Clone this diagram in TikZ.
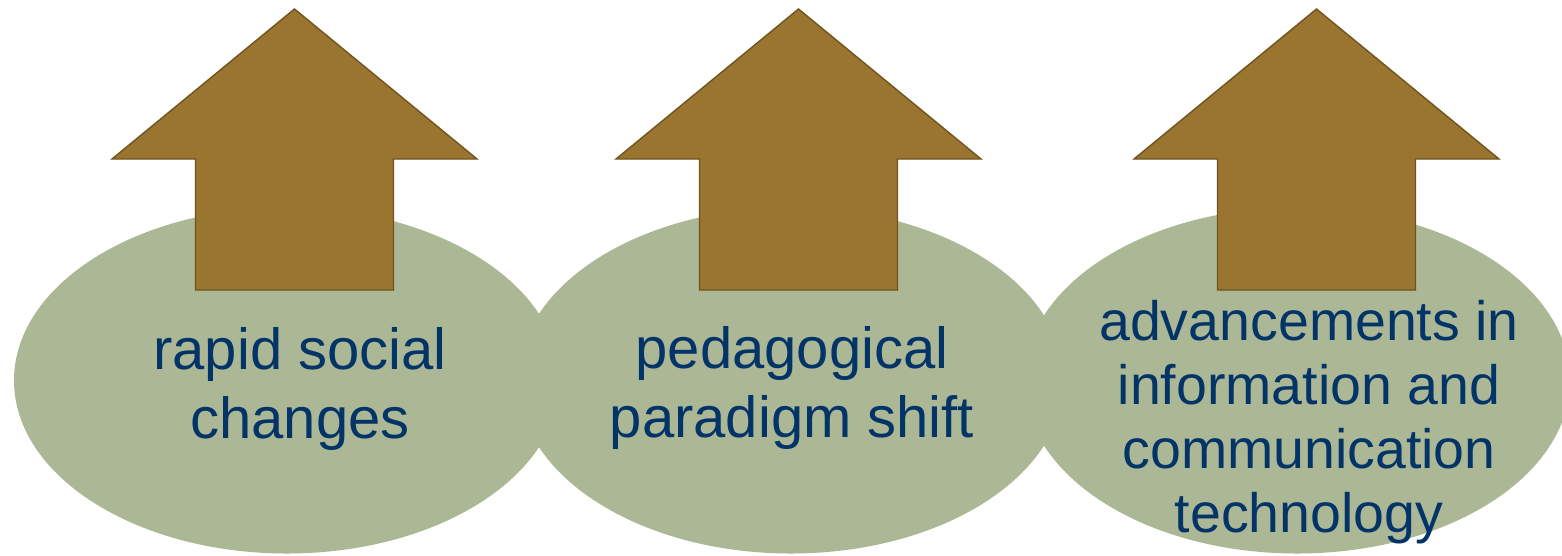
\documentclass[tikz,border=0pt]{standalone}
\usepackage{fontspec}
\setmainfont{Liberation Sans}
\usetikzlibrary{shapes.geometric}
\definecolor{ovalfill}{RGB}{171,183,149}
\definecolor{arrowfill}{RGB}{154,117,48}
\definecolor{arrowline}{RGB}{112,84,30}
\definecolor{txtblue}{RGB}{3,52,103}
\tikzset{
  oval/.style={ellipse, fill=ovalfill, draw=none, inner sep=0pt,
    minimum width=546pt, minimum height=346pt},
  uparrow/.style={fill=arrowfill, draw=arrowline, line width=1.4pt, line join=miter},
  bigtext/.style={text=txtblue, align=center, inner sep=0pt,
    font=\fontsize{58}{68.5}\selectfont},
  smalltext/.style={text=txtblue, align=center, inner sep=0pt,
    font=\fontsize{55.5}{64}\selectfont}
}
\newcommand{\UpArrowShape}[2]{% #1 name, #2 center x
  \coordinate (#1tip) at (#2,9);
  \draw[uparrow] (#1tip) -- ++(182.5,150) -- ++(-83.5,0) -- ++(0,131)
    -- ++(-198,0) -- ++(0,-131) -- ++(-83.5,0) -- cycle;
}
\begin{document}
\begin{tikzpicture}[x=1pt,y=-1pt]
\useasboundingbox (0,0) rectangle (1562,555);
\node[oval] (e1) at (287,380.5) {};
\node[oval] (e2) at (791,380.5) {};
\node[oval] (e3) at (1297,380.5) {};
\UpArrowShape{a1}{294.5}
\UpArrowShape{a2}{798.5}
\UpArrowShape{a3}{1316.5}
\node[bigtext] (t1) at (300,389) {rapid social\\changes};
\node[bigtext] (t2) at (792,388) {pedagogical\\paradigm shift};
\node[smalltext] (t3) at (1309,422) {advancements in\\information and\\communication\\technology};
\end{tikzpicture}
\end{document}
